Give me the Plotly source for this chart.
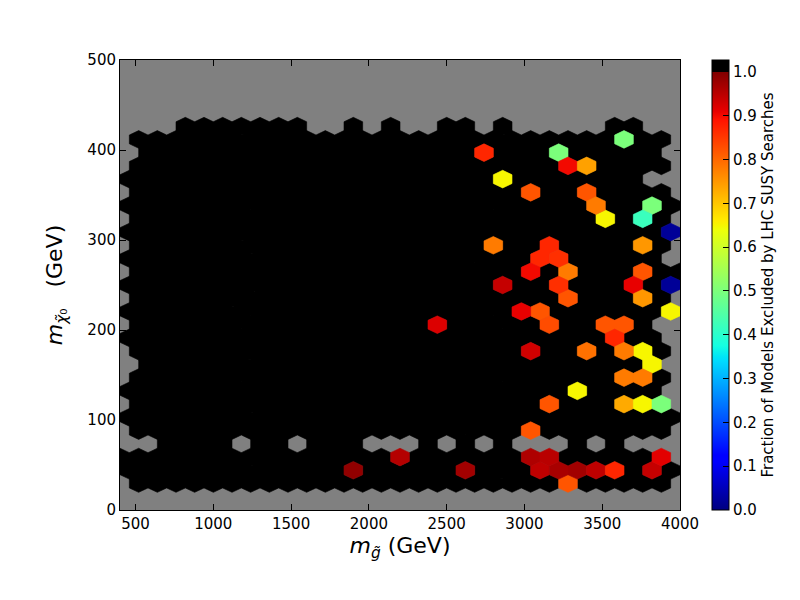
import numpy as np
import plotly.graph_objects as go

# hexbin grid, matplotlib style: gridsize 30 over the plotted extent
X_MIN, X_MAX, Y_MIN, Y_MAX = 400, 4000, 0, 500
NX = 30
NY = int(NX / np.sqrt(3))

# occupied cells, by half-row k (even k = main lattice, odd k = offset lattice)
span_row = [2, 3, 4, 5, 6, 7, 8, 9, 10, 11, 12, 13, 14, 15, 16, 17, 18, 19, 20,
            21, 22, 23, 24, 25, 26, 27, 28, 29]
span_first = [1, 0, 0, 2, 1, 0, 1, 0, 1, 1, 1, 0, 1, 0, 1, 0, 1, 0, 1,
              0, 1, 0, 1, 0, 1, 1, 1, 3]
span_last = [29, 29, 29, 26, 29, 29, 29, 28, 29, 28, 29, 28, 28, 29, 29, 29, 30, 28, 29,
             29, 29, 29, 29, 27, 29, 28, 29, 27]

# empty cells inside those spans
gap_row = [5, 5, 5, 5, 5, 5, 5, 5, 5, 5, 5,
           29, 29, 29, 29, 29, 29, 29, 29, 29, 29, 29]
gap_col = [6, 9, 13, 14, 15, 17, 19, 21, 22, 23, 25,
           10, 11, 13, 15, 16, 19, 21, 22, 23, 24, 25]

# cells where not every model is excluded
hot_row = [2, 3, 3, 3, 3, 3, 3, 3, 3, 4, 4, 4, 4, 6, 8, 8, 8, 8, 9, 10, 10, 11,
           12, 12, 12, 12, 13, 14, 14, 14, 14, 15, 15, 15, 16, 16, 17, 17, 17, 17,
           18, 18, 18, 19, 19, 20, 20, 20, 21, 22, 22, 23, 23, 24, 24, 25, 26, 26,
           27, 27, 28]
hot_col = [24, 12, 18, 22, 23, 24, 25, 26, 28, 15, 22, 23, 29, 22, 23, 27, 28, 29, 24, 27, 28, 28,
           22, 25, 27, 28, 26, 17, 23, 26, 27, 21, 22, 29, 24, 28, 20, 23, 27, 29,
           22, 24, 28, 22, 23, 20, 23, 28, 29, 26, 28, 25, 28, 22, 25, 20, 24, 25,
           19, 23, 27]
hot_frac = [0.82, 0.985, 0.97, 0.945, 0.965, 0.97, 0.945, 0.87, 0.94, 0.955, 0.96, 0.95, 0.915,
            0.82, 0.82, 0.73, 0.65, 0.50, 0.65, 0.78, 0.78, 0.65,
            0.93, 0.79, 0.78, 0.65, 0.87, 0.92, 0.83, 0.82, 0.82, 0.91, 0.82, 0.65,
            0.82, 0.75, 0.94, 0.86, 0.91, 0.02,
            0.90, 0.78, 0.82, 0.87, 0.86, 0.78, 0.87, 0.75, 0.02, 0.65, 0.42,
            0.78, 0.50, 0.82, 0.82, 0.65, 0.90, 0.74, 0.87, 0.50, 0.50]

CTOP = 1.027  # colour bar runs a little past 1.0, that band is black

JET = {
    "r": [(0, 0), (0.35, 0), (0.66, 1), (0.89, 1), (1, 0.5)],
    "g": [(0, 0), (0.125, 0), (0.375, 1), (0.64, 1), (0.91, 0), (1, 0)],
    "b": [(0, 0.5), (0.11, 1), (0.34, 1), (0.65, 0), (1, 0)],
}


def jet(v):
    ch = []
    for c in "rgb":
        xs, ys = zip(*JET[c])
        ch.append(int(round(255 * np.interp(v, xs, ys))))
    return "rgb(%d,%d,%d)" % tuple(ch)


breaks = sorted({p for seg in JET.values() for p, _ in seg})
colorscale = [[p / CTOP, jet(p)] for p in breaks]
colorscale += [[1 / CTOP, "rgb(0,0,0)"], [1.0, "rgb(0,0,0)"]]

sx = (X_MAX - X_MIN) / NX
sy = (Y_MAX - Y_MIN) / NY
hex_dx = sx * np.array([0.5, 0.5, 0.0, -0.5, -0.5, 0.0, 0.5])
hex_dy = sy / 3 * np.array([-0.5, 0.5, 1.0, 0.5, -0.5, -1.0, -0.5])


def center(k, i):
    x = X_MIN + (i + 0.5 * (k % 2)) * sx
    y = Y_MIN + 0.5 * k * sy
    return x, y


def hex_path(cells):
    xs, ys = [], []
    for k, i in cells:
        cx, cy = center(k, i)
        xs += list(cx + hex_dx) + [None]
        ys += list(cy + hex_dy) + [None]
    return xs, ys


gaps = set(zip(gap_row, gap_col))
hot = {(k, i): f for k, i, f in zip(hot_row, hot_col, hot_frac)}

black = []
for k, a, b in zip(span_row, span_first, span_last):
    for i in range(a, b + 1):
        if (k, i) not in gaps and (k, i) not in hot:
            black.append((k, i))

fig = go.Figure()

groups = {"rgb(0,0,0)": black}
for cell, f in hot.items():
    groups.setdefault(jet(f), []).append(cell)

for col, cells in groups.items():
    xs, ys = hex_path(cells)
    fig.add_trace(go.Scatter(
        x=xs, y=ys, mode="lines", fill="toself", fillcolor=col,
        line=dict(color=col, width=0.6), hoverinfo="skip", showlegend=False,
    ))

# colour bar only
fig.add_trace(go.Scatter(
    x=[X_MIN, X_MIN], y=[-100, -100], mode="markers", showlegend=False,
    marker=dict(
        size=1, color=[0, CTOP], cmin=0, cmax=CTOP, colorscale=colorscale,
        showscale=True,
        colorbar=dict(
            x=(711.5 - 120) / 560, xanchor="left", xpad=0,
            y=0.5, yanchor="middle", ypad=0, len=1, lenmode="fraction",
            thickness=17, outlinewidth=1, outlinecolor="black",
            tickvals=[round(0.1 * n, 1) for n in range(11)],
            ticktext=["%.1f" % (0.1 * n) for n in range(11)],
            ticks="inside", ticklen=6, tickcolor="black",
            tickfont=dict(size=15, color="black"),
            title=dict(text="Fraction of Models Excluded by LHC SUSY Searches",
                       side="right", font=dict(size=15, color="black")),
        ),
    ),
))

axis_common = dict(
    showgrid=False, zeroline=False, showline=True, linecolor="black", linewidth=1,
    mirror="ticks", ticks="inside", ticklen=6, tickcolor="black",
    tickfont=dict(size=15, color="black"),
)

fig.update_xaxes(
    range=[X_MIN, X_MAX], tickvals=list(range(500, 4001, 500)),
    title=dict(text="<i>m</i><sub><i>g̃</i></sub> (GeV)", font=dict(size=22, color="black"),
               standoff=4),
    **axis_common,
)
fig.update_yaxes(
    range=[Y_MIN, Y_MAX], tickvals=list(range(0, 501, 100)),
    title=dict(text="<i>m</i><sub><i>χ̃</i>₀</sub>   (GeV)", font=dict(size=22, color="black"),
               standoff=18),
    **axis_common,
)

fig.update_layout(
    width=800, height=600,
    margin=dict(l=120, r=120, t=60, b=90),
    paper_bgcolor="white", plot_bgcolor="rgb(128,128,128)",
    font=dict(family="DejaVu Sans", color="black"),
)

fig.write_html("out.html", config={"displayModeBar": False},
               post_script="document.body.style.margin='0px';")
